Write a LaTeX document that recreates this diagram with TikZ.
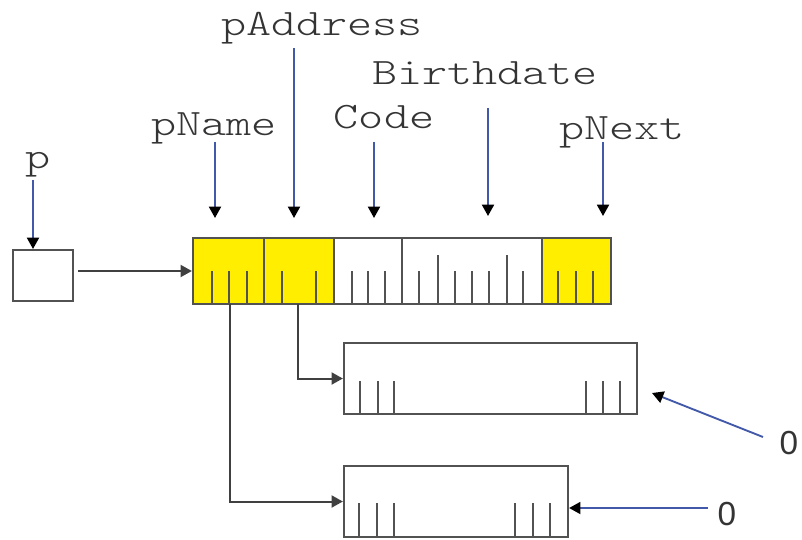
\documentclass[tikz,border=0pt]{standalone}
\usepackage{fontspec}
\newfontfamily\codefont[FakeStretch=1.28]{lmmonolt10-regular.otf}
\newfontfamily\numfont{Liberation Sans}
\usetikzlibrary{arrows.meta,fit}

\definecolor{recyellow}{RGB}{255,238,0}
\definecolor{ptrblue}{RGB}{66,88,168}
\definecolor{inkgray}{RGB}{52,52,52}

\begin{document}
\begin{tikzpicture}[x=0.75pt,y=-0.75pt,
  cell/.style={draw=black!68, line width=1.7pt, inner sep=0pt},
  tick/.style={draw=black!68, line width=1.5pt},
  link/.style={draw=black!75, line width=1.5pt,
    -{Triangle[length=8.5pt,width=9pt]}},
  ptr/.style={draw=ptrblue, line width=1.4pt,
    -{Triangle[length=8.5pt,width=9pt,color=black]}},
  field/.style={text=inkgray, anchor=base, inner sep=0pt,
    font=\codefont\fontsize{28pt}{30pt}\selectfont},
  nil/.style={text=inkgray, inner sep=0pt,
    font=\numfont\fontsize{25pt}{27pt}\selectfont}]
\useasboundingbox (0,0) rectangle (802,539);

% the pointer variable p
\node[cell, fit={(13,250)(73,301)}] (pbox) {};

% the record: pName | pAddress | Code | Birthdate | pNext
\node[cell, fill=recyellow, fit={(193,238)(264,304)}] (c1) {};
\node[cell, fill=recyellow, fit={(264,238)(334,304)}] (c2) {};
\node[cell, fit={(334,238)(402,304)}] (c3) {};
\node[cell, fit={(402,238)(542,304)}] (c4) {};
\node[cell, fill=recyellow, fit={(542,238)(611,304)}] (c5) {};

% byte ticks inside the record
\foreach \x in {212,229,247,282,316,352,368,385,419,455,472,489,523,558,576,593}
  \draw[tick] (\x,304) -- (\x,271);
\foreach \x in {438,507}
  \draw[tick] (\x,304) -- (\x,255);

% the two strings that the pointers lead to
\node[cell, fit={(344,343)(637,414)}] (addr) {};
\foreach \x in {360,378,394,586,603,620}
  \draw[tick] (\x,414) -- (\x,381);
\node[cell, fit={(344,466)(568,537)}] (name) {};
\foreach \x in {359,377,394,515,533,550}
  \draw[tick] (\x,537) -- (\x,503);

% field labels
\node[field] (lp) at (38,168) {p};
\node[field] (lname) at (214,135) {pName};
\node[field] (laddr) at (322,35) {pAddress};
\node[field] (lcode) at (384,128) {Code};
\node[field] (lbirth) at (485,84) {Birthdate};
\node[field] (lnext) at (622,139) {pNext};

% label arrows
\coordinate (sp) at (33,180);   \coordinate (ep) at (33,249);
\coordinate (sn) at (215,142);  \coordinate (en) at (215,218);
\coordinate (sa) at (294,48);   \coordinate (ea) at (294,218);
\coordinate (sc) at (374,142);  \coordinate (ec) at (374,218);
\coordinate (sb) at (488,108);  \coordinate (eb) at (488,216);
\coordinate (sx) at (603,142);  \coordinate (ex) at (603,216);
\draw[ptr] (sp) -- (ep);
\draw[ptr] (sn) -- (en);
\draw[ptr] (sa) -- (ea);
\draw[ptr] (sc) -- (ec);
\draw[ptr] (sb) -- (eb);
\draw[ptr] (sx) -- (ex);

% p -> record
\draw[link, shorten <=3pt] (pbox.east |- c1.west) -- (c1.west);

% pointers out of pName and pAddress
\coordinate (oname) at (230,304);
\coordinate (oaddr) at (298,304);
\draw[link] (oname) |- (name.west);
\draw[link] (oaddr) |- (addr.west);

% terminating zeros
\node[nil] (z1) at (789,443) {0};
\node[nil] (z2) at (727,514) {0};
\coordinate (s1) at (763,437); \coordinate (e1) at (652,393);
\draw[ptr] (s1) -- (e1);
\coordinate (s2) at (708,508);
\draw[ptr] (s2) -- (name.east |- s2);
\end{tikzpicture}
\end{document}
